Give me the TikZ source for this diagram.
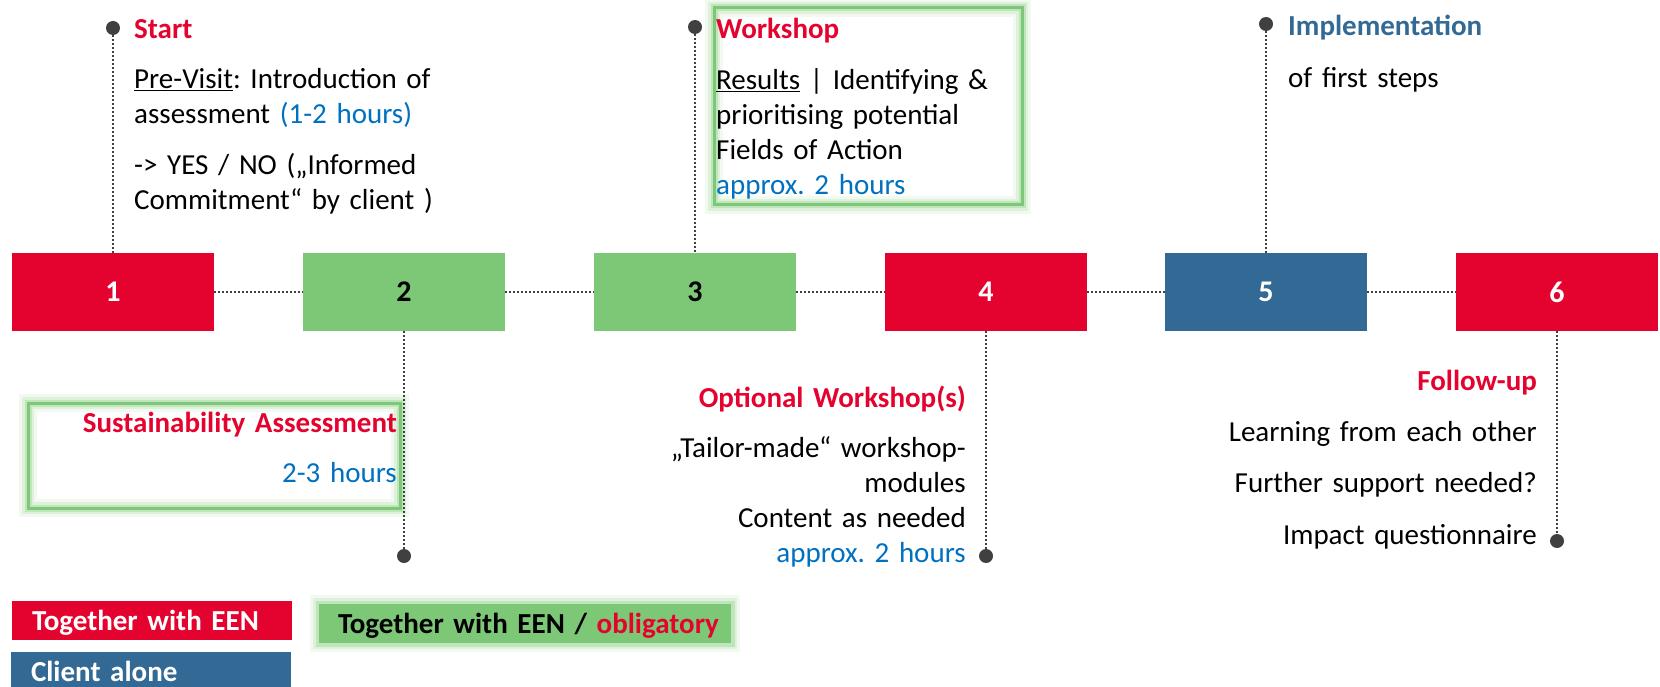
\documentclass[tikz,border=0pt]{standalone}
\usepackage{fontspec}
\setmainfont{Carlito}
\usetikzlibrary{positioning}
\definecolor{eenred}{RGB}{228,3,46}
\definecolor{eengreen}{RGB}{125,200,118}
\definecolor{eenblue}{RGB}{51,106,149}
\definecolor{hourblue}{RGB}{0,112,192}
\definecolor{pingray}{RGB}{64,64,64}
\newcommand{\bodyfont}{\fontsize{29}{35}\selectfont}

\tikzset{
  stepbox/.style={rectangle, minimum width=202pt, minimum height=78pt, inner sep=0pt,
    font=\fontsize{30}{35}\selectfont\bfseries},
  dotline/.style={draw=pingray, line width=2pt, dash pattern=on 2pt off 2pt},
  pindot/.style={circle, fill=pingray, minimum size=14pt, inner sep=0pt},
  greenglow/.style={preaction={draw=eengreen, line width=18pt, opacity=0.1},
    preaction={draw=eengreen, line width=12pt, opacity=0.18},
    preaction={draw=eengreen, line width=7pt, opacity=0.3}},
  glowframe/.style={rectangle, draw=eengreen, line width=3pt, greenglow, inner sep=0pt},
  textblock/.style={inner sep=0pt, text width=#1, font=\bodyfont},
  leftblock/.style={textblock=#1, execute at begin node=\raggedright},
  rightblock/.style={textblock=#1, execute at begin node=\raggedleft},
  legendbox/.style={rectangle, minimum height=39pt, text height=19pt, text depth=0pt,
    inner ysep=0pt, font=\bodyfont\bfseries, execute at begin node=\raggedright},
}
\newcommand{\hours}[1]{\textcolor{hourblue}{#1}}
\newcommand{\steptitle}[2]{{\bfseries\color{#1}#2}}

\begin{document}
\frenchspacing
\begin{tikzpicture}[x=1pt, y=-1pt]
\useasboundingbox (0,0) rectangle (1660,687);

% frames round the obligatory steps
\node[glowframe, minimum width=308pt, minimum height=197pt] (wsframe) at (868,106.5) {};
\node[glowframe, minimum width=372pt, minimum height=105pt] (saframe) at (214,455.5) {};

% the six steps
\foreach \n/\x/\col/\txt in {1/113/eenred/white, 2/404/eengreen/black, 3/695/eengreen/black,
    4/986/eenred/white, 5/1266/eenblue/white, 6/1557/eenred/white}
  \node[stepbox, fill=\col, text=\txt] (s\n) at (\x,292) {\n};

% timeline
\foreach \a/\b in {1/2, 2/3, 3/4, 4/5, 5/6}
  \draw[dotline] (s\a) -- (s\b);

% pins above and below the steps
\node[pindot] (p1) at (113,28) {};
\node[pindot] (p2) at (404,556) {};
\node[pindot] (p3) at (695,27) {};
\node[pindot] (p4) at (986,556) {};
\node[pindot] (p5) at (1266,24) {};
\node[pindot] (p6) at (1557,541) {};
\draw[dotline] (p1) -- (s1.north);
\draw[dotline] (s2.south) -- (p2);
\draw[dotline] (p3) -- (s3.north);
\draw[dotline] (s4.south) -- (p4);
\draw[dotline] (p5) -- (s5.north);
\draw[dotline] (s6.south) -- (p6);

% step descriptions
\node[leftblock=330pt, anchor=base west] (starttxt) at (134,39)
  {\steptitle{eenred}{Start}\\[15pt]
   \underline{Pre-Visit}: Introduction of\\
   assessment \hours{(1-2 hours)}\\[16pt]
   -> YES / NO („Informed\\
   Commitment“ by client )};
\node[leftblock=300pt, anchor=base west] (wstxt) at (716,39)
  {\steptitle{eenred}{Workshop}\\[16pt]
   \underline{Results} | Identifying \&\\
   prioritising potential\\
   Fields of Action\\
   \hours{approx. 2 hours}};
\node[leftblock=300pt, anchor=base west] (impltxt) at (1288,36)
  {\steptitle{eenblue}{Implementation}\\[17pt]
   of first steps};
\node[rightblock=370pt, anchor=base east] (satxt) at (397,432)
  {\steptitle{eenred}{Sustainability Assessment}\\[15pt]
   \hours{2-3 hours}};
\node[rightblock=330pt, anchor=base east] (optxt) at (966,407)
  {\steptitle{eenred}{Optional Workshop(s)}\\[15pt]
   „Tailor-made“ workshop-\\
   modules\\
   Content as needed\\
   \hours{approx. 2 hours}};
\node[rightblock=330pt, anchor=base east] (futxt) at (1537,390)
  {\steptitle{eenred}{Follow-up}\\[16pt]
   Learning from each other\\[16pt]
   Further support needed?\\[17pt]
   Impact questionnaire};

% legend
\node[legendbox, fill=eenred, text=white, text width=240pt, inner xsep=20pt] (lgred) at (152,620.5) {Together with EEN};
\node[legendbox, fill=eenblue, text=white, text width=240pt, inner xsep=20pt] (lgblue) at (151,671.5) {Client alone};
\node[legendbox, fill=eengreen, greenglow, text=black, text width=374pt, inner xsep=19pt] (lggreen) at (525,623.5)
  {\mbox{Together with EEN / \textcolor{eenred}{obligatory}}};

\end{tikzpicture}
\end{document}
